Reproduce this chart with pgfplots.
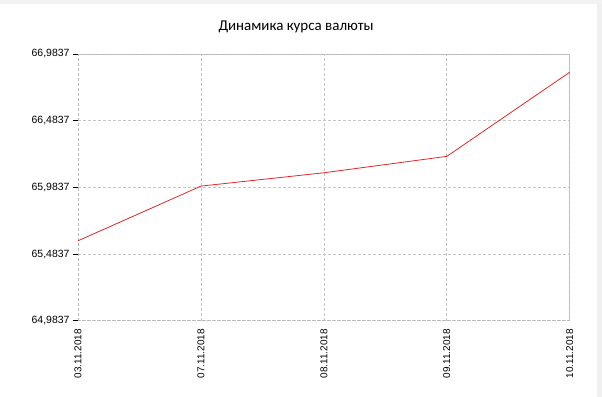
\documentclass[border=0pt]{standalone}
\usepackage{pgfplots}
\pgfplotsset{compat=1.18}
\usepackage{fontspec}
\setmainfont{Liberation Sans}
\newfontfamily\titlefont{Carlito}
\begin{document}
\begin{tikzpicture}
\begin{axis}[
  name=ax,
  at={(0,0)}, anchor=south west,
  scale only axis,
  width=491.7bp, height=266.7bp,
  xmin=0, xmax=4,
  ymin=64.9837, ymax=66.9837,
  xtick={0,1,2,3,4},
  xticklabels={03.11.2018,07.11.2018,08.11.2018,09.11.2018,10.11.2018},
  x tick label style={rotate=90, anchor=east, font=\fontsize{10}{12}\selectfont, text=black},
  ytick={64.9837,65.4837,65.9837,66.4837,66.9837},
  yticklabels={{64,9837},{65,4837},{65,9837},{66,4837},{66,9837}},
  y tick label style={font=\fontsize{10.5}{12}\selectfont, text=black},
  xtick style={draw=none},
  ytick pos=left,
  tick align=outside,
  major tick length=5bp,
  ytick style={black, line width=0.8bp},
  grid=major,
  grid style={gray!45, line width=0.6bp, dash pattern=on 3bp off 2bp},
  axis line style={gray!55, line width=0.6bp, dash pattern=on 3bp off 2bp},
  title={\titlefont Динамика курса валюты},
  title style={at={(axis description cs:0.4434,1.078)}, anchor=center, yshift=0pt, font=\fontsize{15}{17}\selectfont, text=black},
  clip=false,
]
\addplot[color={rgb,255:red,225;green,40;blue,40}, line width=0.8bp] coordinates {
  (0,65.583) (1,65.993) (2,66.093) (3,66.216) (4,66.847)
};
\end{axis}
\pgfresetboundingbox
\fill[gray!12] (519bp,-76.3bp) rectangle (524bp,320.7bp);
\fill[gray!10] (-78bp,316.7bp) rectangle (524bp,320.7bp);
\path[use as bounding box] (-78bp,-76.3bp) rectangle (524bp,320.7bp);
\end{tikzpicture}
\end{document}
